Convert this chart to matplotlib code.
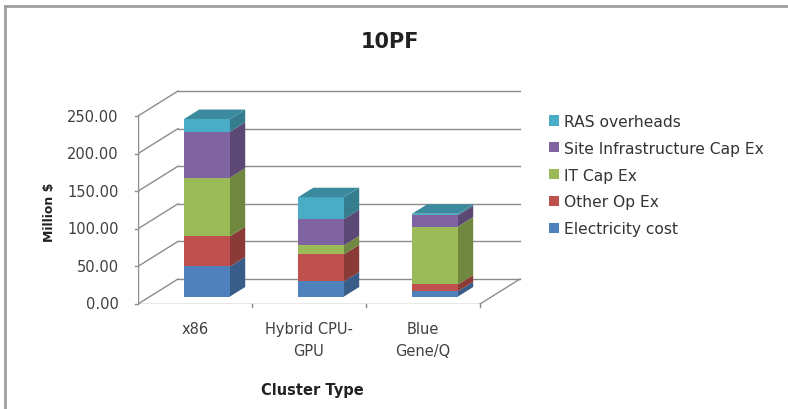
import matplotlib
matplotlib.use("Agg")
import matplotlib.pyplot as plt
from matplotlib.patches import Polygon, Patch
from matplotlib.lines import Line2D
import matplotlib.colors as mcolors

plt.rcParams['font.family'] = ['DejaVu Sans']

# ---- data ----
categories = ["x86", "Hybrid CPU-\nGPU", "Blue\nGene/Q"]
series_names = ["Electricity cost", "Other Op Ex", "IT Cap Ex",
                "Site Infrastructure Cap Ex", "RAS overheads"]
electricity = [40, 20, 7]
other_opex = [40, 36, 9]
it_capex = [78, 12, 77]
site_capex = [61, 35, 15]
ras = [17, 29, 2]
yticks = [0, 50, 100, 150, 200, 250]
title = "10PF"
ylabel = "Million $"
xlabel = "Cluster Type"

series = [electricity, other_opex, it_capex, site_capex, ras]
colors = ["#4F81BD", "#C0504D", "#9BBB59", "#8064A2", "#4BACC6"]

W, H = 788, 410
fig = plt.figure(figsize=(W / 100, H / 100), dpi=100)

# axes placed so that the front plane maps 1 category -> 114 px, 1 unit -> 0.752 px
ax_left_px, ax_bottom_px = 138, 305
xmax, ymax = 3.4, 290
ax = fig.add_axes([ax_left_px / W, (H - ax_bottom_px) / H,
                   xmax * 114 / W, ymax * 0.752 / H])
ax.set_xlim(0, xmax)
ax.set_ylim(0, ymax)
ax.axis('off')

# depth of the 3D box (in data units)
DX, DY = 40 / 114, 25 / 0.752
grid_c = "#8c8c8c"
txt_c = "#404040"
ncat = len(categories)

# side wall diagonals and back wall gridlines
for v in yticks:
    ax.plot([0, DX], [v, v + DY], color=grid_c, lw=1, zorder=1)
    ax.plot([DX, ncat + DX], [v + DY, v + DY], color=grid_c, lw=1, zorder=1)
    ax.plot([-0.03, 0], [v, v], color=grid_c, lw=1, zorder=1, clip_on=False)
    ax.text(-0.17, v, f"{v:.2f}", ha='right', va='center', fontsize=10.5,
            color=txt_c)
# value axis and floor edges
ax.plot([0, 0], [0, yticks[-1]], color=grid_c, lw=1, zorder=1)
ax.plot([0, ncat], [0, 0], color=grid_c, lw=1, zorder=1)
ax.plot([ncat, ncat + DX], [0, DY], color=grid_c, lw=1, zorder=1)
for i in range(1, ncat + 1):
    ax.plot([i, i], [0, -4], color=grid_c, lw=1, zorder=1, clip_on=False)

# bars: front face at 30% of depth, back at 68%
f0, f1 = 0.30, 0.68
dx0, dy0 = DX * f0, DY * f0
ddx, ddy = DX * (f1 - f0), DY * (f1 - f0)
bw = 46 / 114


def shade(c, k):
    r, g, b = mcolors.to_rgb(c)
    return (r * k, g * k, b * k)


for i in range(ncat):
    xc = i + 0.5 + dx0
    xl, xr = xc - bw / 2, xc + bw / 2
    base = 0.0
    for s, vals in enumerate(series):
        h = vals[i]
        b0, b1 = base + dy0, base + h + dy0
        ax.bar(xc, h, width=bw, bottom=b0, color=colors[s], lw=0, zorder=3)
        side = Polygon([(xr, b0), (xr + ddx, b0 + ddy), (xr + ddx, b1 + ddy),
                        (xr, b1)], closed=True, facecolor=shade(colors[s], 0.72),
                       lw=0, zorder=3)
        ax.add_patch(side)
        base += h
    top = base + dy0
    topface = Polygon([(xl, top), (xr, top), (xr + ddx, top + ddy),
                       (xl + ddx, top + ddy)], closed=True,
                      facecolor=shade(colors[-1], 0.8), lw=0, zorder=4)
    ax.add_patch(topface)
    ax.text(i + 0.5, -22, categories[i], ha='center', va='top',
            fontsize=10.5, color=txt_c, linespacing=1.6)

# titles
fig.text(390 / W, 1 - 42 / H, title, ha='center', va='center',
         fontsize=15, fontweight='bold', color="#222222")
fig.text(50 / W, 1 - 212 / H, ylabel, ha='center', va='center',
         rotation=90, fontsize=9, fontweight='bold', color="#222222")
fig.text(312 / W, 1 - 391 / H, xlabel, ha='center', va='center',
         fontsize=10.5, fontweight='bold', color="#222222")

# legend (top entry is the top of the stack)
handles = [Patch(facecolor=colors[s], edgecolor='none') for s in range(5)][::-1]
labels = series_names[::-1]
fig.legend(handles, labels, loc='upper left',
           bbox_to_anchor=(549 / W, 1 - 115 / H), frameon=False,
           borderpad=0, borderaxespad=0,
           fontsize=11.2, handlelength=0.64, handleheight=0.64,
           handletextpad=0.33, labelspacing=0.76, labelcolor="#333333")

# chart area frame
fig.add_artist(Line2D([5 / W, 1], [1 - 7 / H, 1 - 7 / H], color="#a0a0a0", lw=2))
fig.add_artist(Line2D([5 / W, 5 / W], [0, 1 - 7 / H], color="#a0a0a0", lw=2))

fig.savefig("out.png", dpi=100)
